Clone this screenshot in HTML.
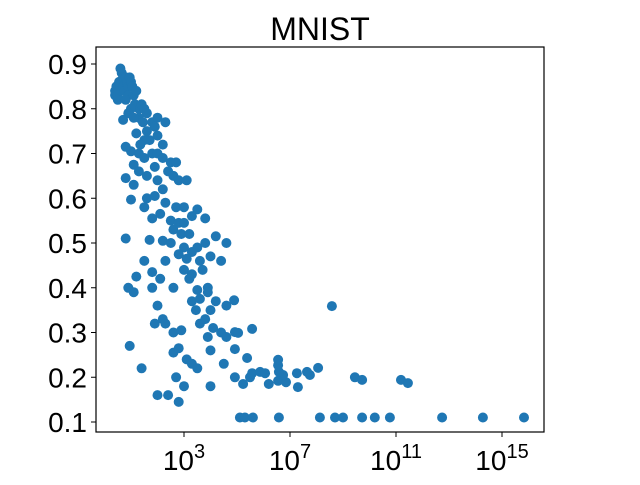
<!DOCTYPE html>
<html><head><meta charset="utf-8"><style>
html,body{margin:0;padding:0;background:#fff;}
svg text{font-family:"Liberation Sans","DejaVu Sans",sans-serif;fill:#000;}
</style></head><body>
<svg id="chart" width="640" height="480" viewBox="0 0 640 480" xmlns="http://www.w3.org/2000/svg">
<rect width="640" height="480" fill="#fff"/>
<text x="320" y="40" font-size="32" text-anchor="middle">MNIST</text>
<g id="points"></g>
<rect x="96" y="47" width="448" height="385" fill="none" stroke="#000" stroke-width="1.2"/>
<g id="yaxis"></g>
<g id="xaxis"></g>
</svg>
<script>
const xExponents = [0.4,0.4,0.45,0.5,0.5,0.55,0.6,0.65,0.7,0.7,0.75,0.8,0.85,0.9,0.95,1.0,1.05,0.9,0.8,1.1,1.2,1.15,1.3,1.4,1.5,1.6,1.0,1.3,1.45,1.8,2.0,1.9,2.3,0.9,1.1,1.2,0.7,1.6,1.7,2.0,2.2,1.5,1.35,1.0,0.8,1.3,1.5,1.8,2.0,2.2,2.5,2.7,2.4,2.6,1.9,1.1,1.3,1.6,2.0,2.2,2.8,3.1,0.8,1.1,1.6,1.9,2.3,2.7,3.0,3.5,1.0,1.5,2.1,1.8,2.5,2.8,3.0,3.3,3.8,2.6,2.9,3.2,2.2,1.7,0.8,2.5,3.0,3.3,3.5,3.8,4.2,4.6,2.8,3.1,3.6,4.0,4.4,2.3,1.5,1.8,1.2,2.1,3.0,3.3,3.7,3.2,3.5,3.9,2.6,0.9,1.1,1.8,3.9,3.3,3.6,4.2,3.45,4.0,4.6,2.0,2.6,2.9,3.6,3.8,4.1,4.4,4.6,3.9,1.9,2.2,2.3,0.95,2.6,2.8,3.1,4.0,3.3,3.5,4.5,1.4,2.7,3.0,4.0,2.4,2.0,2.8,
4.89,4.92,5.04,5.57,4.92,5.38,4.92,5.23,5.49,5.57,5.87,6.06,6.2,6.55,6.85,6.74,6.58,6.55,6.55,7.26,7.3,7.75,7.64,8.06,8.58,9.45,9.72,11.19,11.45,
5.11,5.30,5.6,6.58,8.13,8.7,9.0,9.72,10.2,10.77,12.74,14.28,15.83];
const yValues = [0.83,0.84,0.85,0.83,0.82,0.86,0.89,0.88,0.87,0.85,0.84,0.87,0.86,0.85,0.87,0.86,0.85,0.83,0.82,0.83,0.84,0.81,0.8,0.81,0.8,0.79,0.8,0.78,0.77,0.77,0.78,0.76,0.77,0.79,0.78,0.745,0.775,0.75,0.73,0.74,0.72,0.73,0.72,0.705,0.715,0.7,0.69,0.70,0.7,0.69,0.68,0.68,0.66,0.65,0.67,0.675,0.66,0.65,0.64,0.62,0.64,0.64,0.645,0.63,0.6,0.605,0.59,0.58,0.58,0.575,0.597,0.58,0.565,0.555,0.55,0.545,0.545,0.56,0.555,0.53,0.52,0.52,0.505,0.507,0.51,0.5,0.49,0.48,0.49,0.5,0.515,0.5,0.475,0.465,0.46,0.47,0.46,0.46,0.46,0.435,0.425,0.42,0.44,0.43,0.44,0.42,0.395,0.4,0.4,0.4,0.39,0.40,0.39,0.37,0.375,0.37,0.35,0.35,0.36,0.36,0.3,0.305,0.32,0.33,0.31,0.3,0.29,0.29,0.32,0.33,0.32,0.27,0.255,0.265,0.24,0.26,0.23,0.22,0.23,0.22,0.2,0.18,0.18,0.16,0.16,0.145,
0.372,0.301,0.299,0.308,0.263,0.243,0.2,0.185,0.2,0.209,0.212,0.209,0.185,0.192,0.189,0.205,0.212,0.227,0.239,0.209,0.178,0.205,0.212,0.221,0.359,0.20,0.194,0.194,0.187,
0.11,0.11,0.11,0.11,0.11,0.11,0.11,0.11,0.11,0.11,0.11,0.11,0.11];
const yTicks = [0.1,0.2,0.3,0.4,0.5,0.6,0.7,0.8,0.9];
const xTickExponents = [3,7,11,15];

const NS = 'http://www.w3.org/2000/svg';
function xScale(e){ return 184 + (e - 3) * 26.5; }
function yScale(v){ return 422 - (v - 0.1) / 0.1 * 44.75; }

const pg = document.getElementById('points');
for (let i = 0; i < xExponents.length; i++) {
  const c = document.createElementNS(NS, 'circle');
  c.setAttribute('cx', xScale(xExponents[i]).toFixed(1));
  c.setAttribute('cy', yScale(yValues[i]).toFixed(1));
  c.setAttribute('r', 5);
  c.setAttribute('fill', '#1f77b4');
  
  
  pg.appendChild(c);
}
const ya = document.getElementById('yaxis');
yTicks.forEach(t => {
  const y = yScale(t);
  const l = document.createElementNS(NS, 'line');
  l.setAttribute('x1', 96); l.setAttribute('x2', 91);
  l.setAttribute('y1', y); l.setAttribute('y2', y);
  l.setAttribute('stroke', '#000');
  
  
  ya.appendChild(l);
  const tx = document.createElementNS(NS, 'text');
  tx.setAttribute('x', 87); tx.setAttribute('y', y + 10);
  tx.setAttribute('font-size', '28'); tx.setAttribute('text-anchor', 'end');
  tx.textContent = t.toFixed(1);
  
  
  ya.appendChild(tx);
});
const xa = document.getElementById('xaxis');
xTickExponents.forEach(e => {
  const x = xScale(e);
  const l = document.createElementNS(NS, 'line');
  l.setAttribute('x1', x); l.setAttribute('x2', x);
  l.setAttribute('y1', 432); l.setAttribute('y2', 437);
  l.setAttribute('stroke', '#000');
  
  
  xa.appendChild(l);
  const tx = document.createElementNS(NS, 'text');
  tx.setAttribute('x', x); tx.setAttribute('y', 470);
  tx.setAttribute('font-size', '28'); tx.setAttribute('text-anchor', 'middle');
  tx.innerHTML = '10<tspan dy="-12" font-size="20">' + e + '</tspan>';
  
  
  xa.appendChild(tx);
});
</script>
</body></html>
